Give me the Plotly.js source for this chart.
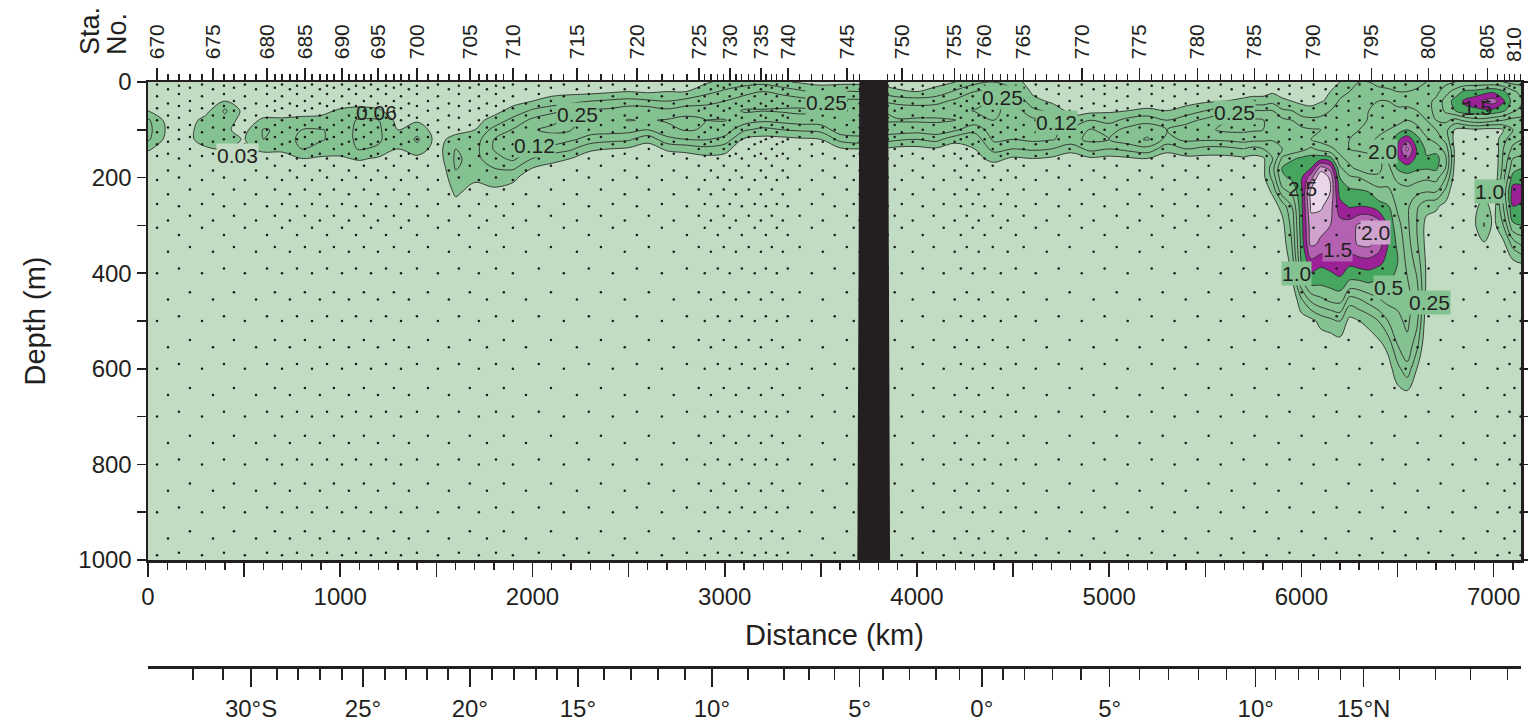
<!DOCTYPE html>
<html><head><meta charset="utf-8">
<script src="https://cdn.plot.ly/plotly-3.0.1.min.js"></script>
<style>html,body{margin:0;padding:0;background:#fff}#chart{width:1528px;height:728px}</style>
</head><body><div id="chart"></div>
<script>
// ---------------- DATA ----------------
// contour levels drawn in the section
const levels = [0.03, 0.06, 0.12, 0.25, 0.5, 1.0, 1.5, 2.0, 2.5];
// fill colour of each band: <0.03, 0.03-0.06, 0.06-0.12, 0.12-0.25, 0.25-0.5, 0.5-1, 1-1.5, 1.5-2, 2-2.5, >2.5
const bandColors = ['#c1dcc3','#85c291','#85c291','#85c291','#85c291','#46a65f','#9c2097','#b461b2','#d0a2ce','#ead6ea'];

// upper layer grid (0-5700 km, 0-260 m); one profile per distance column
const upperKm = [0,100,200,300,400,500,600,700,800,900,1000,1100,1200,1300,1400,1500,1600,1700,1800,1900,2000,2100,2200,2300,2400,2500,2600,2700,2800,2900,3000,3100,3200,3300,3400,3500,3600,3700,3800,3900,4000,4100,4200,4300,4400,4500,4600,4700,4800,4900,5000,5100,5200,5300,5400,5500,5600,5700];
const upperDepth = [0,20,40,60,80,100,120,140,160,180,200,230,260];
const upperProfiles = [
[0,0,0.01,0.03,0.07,0.08,0.07,0.035,0.01,0,0,0,0],
[0,0,0,0.01,0.02,0.025,0.02,0.01,0,0,0,0,0],
[0,0,0,0.01,0.015,0.02,0.02,0.01,0,0,0,0,0],
[0,0,0.01,0.02,0.04,0.045,0.045,0.025,0.01,0,0,0,0],
[0,0,0.03,0.07,0.05,0.035,0.04,0.03,0.01,0,0,0,0],
[0,0,0.01,0.02,0.015,0.02,0.028,0.025,0.01,0,0,0,0],
[0,0,0,0.015,0.035,0.065,0.06,0.035,0.02,0,0,0,0],
[0,0,0,0.015,0.035,0.055,0.05,0.035,0.02,0,0,0,0],
[0,0,0,0.015,0.04,0.06,0.07,0.06,0.03,0,0,0,0],
[0,0,0,0.02,0.04,0.062,0.065,0.05,0.025,0,0,0,0],
[0,0,0.01,0.035,0.05,0.055,0.05,0.045,0.025,0,0,0,0],
[0,0,0.015,0.04,0.065,0.065,0.07,0.065,0.035,0.01,0,0,0],
[0,0,0.01,0.035,0.06,0.07,0.07,0.055,0.025,0,0,0,0],
[0,0,0,0.01,0.02,0.03,0.035,0.03,0.01,0,0,0,0],
[0,0,0,0.01,0.025,0.05,0.07,0.05,0.02,0,0,0,0],
[0,0,0,0,0.01,0.015,0.02,0.015,0.01,0,0,0,0],
[0,0,0,0,0.01,0.02,0.04,0.06,0.07,0.065,0.05,0.035,0.02],
[0,0,0,0.01,0.02,0.03,0.045,0.05,0.05,0.045,0.035,0.02,0.01],
[0,0,0.01,0.02,0.04,0.08,0.12,0.13,0.1,0.06,0.04,0.025,0.01],
[0,0.01,0.02,0.04,0.08,0.13,0.2,0.22,0.15,0.07,0.035,0.02,0],
[0,0.015,0.03,0.07,0.15,0.24,0.2,0.13,0.06,0.03,0.015,0,0],
[0,0.02,0.04,0.1,0.22,0.3,0.2,0.1,0.04,0.02,0,0,0],
[0,0.02,0.05,0.13,0.28,0.26,0.14,0.07,0.03,0.01,0,0,0],
[0,0.02,0.06,0.14,0.2,0.17,0.1,0.035,0.015,0,0,0,0],
[0.01,0.025,0.07,0.15,0.22,0.18,0.08,0.03,0.01,0,0,0,0],
[0.01,0.03,0.08,0.2,0.26,0.17,0.07,0.025,0.01,0,0,0,0],
[0.01,0.025,0.07,0.2,0.24,0.12,0.04,0.015,0,0,0,0,0],
[0.01,0.03,0.06,0.15,0.27,0.22,0.1,0.035,0.01,0,0,0,0],
[0.015,0.03,0.08,0.2,0.32,0.27,0.12,0.04,0.015,0,0,0,0],
[0.025,0.05,0.1,0.18,0.25,0.24,0.13,0.05,0.02,0,0,0,0],
[0.04,0.07,0.12,0.2,0.26,0.2,0.1,0.04,0.02,0,0,0,0],
[0.045,0.1,0.18,0.27,0.2,0.07,0.025,0.01,0,0,0,0,0],
[0.05,0.12,0.22,0.26,0.15,0.05,0.02,0.01,0,0,0,0,0],
[0.035,0.1,0.2,0.28,0.17,0.06,0.02,0,0,0,0,0,0],
[0.025,0.07,0.18,0.3,0.2,0.07,0.025,0.01,0,0,0,0,0],
[0.02,0.05,0.15,0.26,0.2,0.08,0.03,0.015,0,0,0,0,0],
[0.02,0.06,0.15,0.22,0.25,0.2,0.08,0.025,0.01,0,0,0,0],
[0.02,0.06,0.15,0.25,0.25,0.2,0.1,0.03,0.01,0,0,0,0],
[0.02,0.05,0.12,0.25,0.27,0.2,0.09,0.03,0.01,0,0,0,0],
[0.015,0.035,0.1,0.2,0.27,0.2,0.07,0.02,0,0,0,0,0],
[0.015,0.03,0.09,0.2,0.28,0.18,0.06,0.02,0,0,0,0,0],
[0.02,0.04,0.1,0.2,0.28,0.2,0.08,0.025,0.01,0,0,0,0],
[0.03,0.07,0.15,0.22,0.26,0.14,0.04,0.015,0,0,0,0,0],
[0.05,0.12,0.2,0.26,0.2,0.08,0.04,0.03,0.02,0,0,0,0],
[0.06,0.15,0.25,0.3,0.25,0.2,0.15,0.08,0.04,0.015,0,0,0],
[0.04,0.08,0.15,0.2,0.22,0.2,0.12,0.06,0.025,0.01,0,0,0],
[0.02,0.025,0.04,0.08,0.15,0.2,0.15,0.07,0.03,0.015,0,0,0],
[0.01,0.015,0.025,0.05,0.12,0.16,0.13,0.06,0.025,0.01,0,0,0],
[0,0.01,0.015,0.02,0.04,0.08,0.1,0.04,0.015,0,0,0,0],
[0,0.01,0.015,0.02,0.06,0.13,0.15,0.08,0.025,0,0,0,0],
[0,0.01,0.015,0.025,0.05,0.1,0.12,0.06,0.02,0,0,0,0],
[0,0.01,0.015,0.03,0.08,0.16,0.2,0.08,0.025,0,0,0,0],
[0,0.01,0.015,0.035,0.1,0.2,0.28,0.1,0.03,0.01,0,0,0],
[0,0.01,0.015,0.03,0.06,0.12,0.1,0.04,0.015,0,0,0,0],
[0,0.01,0.02,0.04,0.1,0.18,0.15,0.06,0.02,0,0,0,0],
[0,0.01,0.025,0.06,0.15,0.22,0.14,0.05,0.02,0,0,0,0],
[0.01,0.015,0.03,0.1,0.24,0.3,0.15,0.05,0.02,0,0,0,0],
[0.01,0.02,0.035,0.12,0.27,0.3,0.18,0.06,0.025,0,0,0,0]
];

// northern grid (5700-7150 km, 0-700 m)
const northKm = [5700,5750,5800,5850,5900,5950,6000,6050,6100,6150,6200,6250,6300,6350,6400,6450,6500,6550,6600,6650,6700,6750,6800,6850,6900,6950,7000,7050,7100,7150];
const northDepth = [0,20,40,60,80,100,120,140,160,180,200,230,260,300,340,380,420,460,500,550,600,650,700];
const northProfiles = [
[0.01,0.02,0.035,0.12,0.27,0.3,0.18,0.06,0.025,0,0,0,0,0,0,0,0,0,0,0,0,0,0],
[0.01,0.02,0.04,0.13,0.28,0.28,0.16,0.05,0.02,0,0,0,0,0,0,0,0,0,0,0,0,0,0],
[0.01,0.02,0.04,0.12,0.26,0.25,0.15,0.06,0.025,0.02,0.02,0.01,0,0,0,0,0,0,0,0,0,0,0],
[0.015,0.025,0.05,0.12,0.22,0.22,0.14,0.07,0.06,0.1,0.08,0.035,0.015,0,0,0,0,0,0,0,0,0,0],
[0.015,0.02,0.035,0.07,0.15,0.2,0.15,0.12,0.3,0.55,0.45,0.2,0.04,0.02,0.01,0,0,0,0,0,0,0,0],
[0.015,0.02,0.03,0.06,0.12,0.18,0.14,0.15,0.45,0.8,0.6,0.3,0.12,0.08,0.06,0.04,0.02,0,0,0,0,0,0],
[0.015,0.02,0.025,0.04,0.09,0.15,0.13,0.2,0.6,0.9,0.95,0.9,0.85,0.8,0.7,0.5,0.2,0.05,0.015,0,0,0,0],
[0.02,0.022,0.025,0.035,0.08,0.13,0.12,0.3,0.7,1.0,1.8,2.7,2.6,2.3,2.1,1.3,0.65,0.12,0.02,0,0,0,0],
[0.02,0.025,0.028,0.045,0.08,0.12,0.1,0.2,0.8,2.2,3.0,2.8,2.6,2.15,1.9,1.1,0.6,0.2,0.04,0.01,0,0,0],
[0.025,0.03,0.035,0.06,0.09,0.11,0.08,0.15,0.7,1.8,2.4,2.5,2.2,2.0,1.7,1.2,0.7,0.25,0.05,0.01,0,0,0],
[0.03,0.045,0.07,0.08,0.09,0.1,0.09,0.1,0.15,0.3,0.5,0.8,1.2,1.7,1.75,1.4,0.8,0.3,0.06,0.015,0,0,0],
[0.04,0.06,0.08,0.09,0.09,0.1,0.12,0.12,0.1,0.15,0.3,0.65,0.95,1.75,1.85,1.1,0.45,0.08,0.02,0,0,0,0],
[0.06,0.07,0.09,0.1,0.1,0.12,0.15,0.15,0.08,0.1,0.25,0.6,1.0,2.1,2.05,1.2,0.45,0.1,0.03,0,0,0,0],
[0.06,0.08,0.1,0.12,0.13,0.15,0.2,0.2,0.08,0.08,0.18,0.5,0.95,2.2,2.1,1.25,0.5,0.15,0.04,0.01,0,0,0],
[0.05,0.08,0.12,0.15,0.18,0.2,0.3,0.35,0.1,0.1,0.15,0.35,0.7,1.9,1.8,1.1,0.45,0.22,0.06,0.02,0,0,0],
[0.05,0.07,0.12,0.18,0.25,0.25,0.3,0.4,0.3,0.2,0.2,0.3,0.55,0.9,1.0,0.85,0.5,0.3,0.12,0.04,0.015,0,0],
[0.04,0.06,0.1,0.15,0.2,0.35,0.9,1.05,0.95,0.6,0.3,0.2,0.22,0.35,0.45,0.5,0.4,0.3,0.22,0.12,0.05,0.02,0],
[0.04,0.06,0.1,0.15,0.25,0.5,1.3,2.15,1.5,0.75,0.4,0.2,0.15,0.15,0.18,0.22,0.28,0.32,0.3,0.22,0.1,0.025,0],
[0.05,0.07,0.1,0.12,0.2,0.35,0.7,0.95,0.85,0.6,0.35,0.15,0.07,0.06,0.07,0.1,0.14,0.2,0.16,0.08,0.03,0.01,0],
[0.06,0.08,0.1,0.1,0.12,0.18,0.3,0.45,0.55,0.55,0.3,0.12,0.04,0.02,0.02,0.025,0.025,0.02,0.01,0,0,0,0],
[0.08,0.1,0.15,0.15,0.12,0.12,0.2,0.4,0.7,0.6,0.35,0.12,0.035,0.015,0,0,0,0,0,0,0,0,0],
[0.1,0.2,0.35,0.3,0.15,0.08,0.1,0.2,0.3,0.25,0.12,0.05,0.02,0,0,0,0,0,0,0,0,0,0],
[0.12,0.35,0.7,0.5,0.1,0.025,0.015,0.02,0.02,0.015,0.01,0,0,0,0,0,0,0,0,0,0,0,0],
[0.15,0.6,1.1,0.85,0.15,0.02,0.01,0,0,0,0,0,0,0,0,0,0,0,0,0,0,0,0],
[0.15,0.65,1.3,0.85,0.2,0.025,0.01,0,0,0,0,0,0.02,0.025,0.01,0,0,0,0,0,0,0,0],
[0.15,0.8,1.6,0.9,0.2,0.02,0.01,0,0,0,0,0.02,0.045,0.065,0.025,0,0,0,0,0,0,0,0],
[0.15,0.9,1.75,0.85,0.15,0.02,0.01,0,0,0,0,0,0.015,0.02,0.01,0,0,0,0,0,0,0,0],
[0.12,0.6,1.1,0.6,0.12,0.03,0.05,0.06,0.07,0.08,0.1,0.15,0.12,0.06,0.02,0,0,0,0,0,0,0,0],
[0.1,0.3,0.4,0.3,0.1,0.06,0.1,0.15,0.25,0.4,0.7,1.3,1.0,0.45,0.08,0.02,0,0,0,0,0,0,0],
[0.1,0.2,0.25,0.2,0.1,0.08,0.12,0.18,0.3,0.5,0.8,1.2,0.9,0.5,0.15,0.03,0,0,0,0,0,0,0]
];

// station positions (km) for stations 670 ... 810
const stationKm = [47,104,161,218,281,338,395,447,504,562,
 619,660,697,738,775,816,853,894,931,967,
 1009,1045,1082,1123,1160,1196,1238,1279,1316,1357,
 1399,1456,1508,1565,1617,1674,1721,1763,1810,1851,
 1898,1966,2033,2096,2163,2231,2293,2356,2418,2480,
 2543,2605,2673,2735,2803,2865,2896,2928,2964,2995,
 3026,3058,3089,3125,3156,3188,3214,3245,3271,3302,
 3328,3390,3453,3510,3572,3635,3671,3702,3848,3884,
 3921,3978,4030,4087,4139,4196,4228,4259,4290,4321,
 4352,4394,4436,4472,4514,4555,4618,4675,4737,4794,
 4857,4919,4976,5039,5096,5158,5221,5278,5340,5398,
 5460,5517,5580,5637,5699,5756,5819,5881,5938,6001,
 6063,6126,6183,6245,6302,6365,6422,6484,6542,6604,
 6661,6724,6786,6843,6906,6968,7020,7056,7082,7108,
 7140];
const labelledStations = [670,675,680,685,690,695,700,705,710,715,720,725,730,735,740,745,750,755,760,765,770,775,780,785,790,795,800,805,810];
// sample (bottle) depths of the casts; casts cycle through four sampling schemes
const sampleDepthsA = [5,30,55,80,105,130,155,205,255,305,400,500,600,700,800,900,990];
const sampleDepthsB = [15,45,70,95,125,150,185,235,290,355,455,555,655,755,855,955];
const sampleDepthsC = [8,25,50,75,100,120,160,200,260,320,390,490,590,690,790,890,985];
const sampleDepthsD = [12,40,60,90,115,140,175,225,280,345,440,540,640,740,840,940];

// land / no-data gap
const gapKm = [3700, 3850, 3860, 3690];
const gapDepth = [0, 0, 1000, 1000];

// latitude scale
const latMajorKm = [536,1118,1674,2236,2933,3702,4337,5002,5762,6323];
const latMajorText = ['30°S','25°','20°','15°','10°','5°','0°','5°','10°','15°N'];
const latMinorKm = [234,390,671,780,894,1009,1232,1342,1451,1560,1789,1903,2018,2127,2371,2512,2652,2792,3120,3307,3437,3572,3822,3962,4098,4222,4446,4560,4706,4852,5158,5309,5465,5611,5866,5985,6089,6204,6510,6698,6880,7072];

// contour labels
const labelText  = ['0.06','0.03','0.25','0.12','0.25','0.25','0.12','0.25','1.5','2.0','2.5','2.0','1.5','1.0','0.5','0.25','1.0'];
const labelKm    = [1191,463,2236,2012,3531,4446,4727,5652,6916,6422,6006,6386,6188,5975,6453,6666,6978];
const labelDepth = [63,153,69,132,42,33,84,63,54,146,222,314,351,400,429,462,230];
const labelBand  = [-1,0,1,1,1,1,1,1,-1,1,-1,8,7,1,1,1,1];

// ---------------- BUILD ----------------
const INK = '#231f20';
const FONT = 'Liberation Sans, Arial, Helvetica, sans-serif';
const XMAX = 7142;

function toLevelIndex(v) {
  if (v <= levels[0]) return v / levels[0];
  for (let i = 0; i < levels.length - 1; i++) {
    if (v <= levels[i + 1]) return i + 1 + (v - levels[i]) / (levels[i + 1] - levels[i]);
  }
  return levels.length + (v - levels[levels.length - 1]) / 0.5;
}

const nb = bandColors.length - 1; // 9
const colorscale = [];
bandColors.forEach((c, k) => {
  const lo = Math.max(0, (k - 0.5) / nb), hi = Math.min(1, (k + 0.5) / nb);
  colorscale.push([lo, c]); colorscale.push([hi, c]);
});

function contourTrace(km, depth, profiles) {
  return {
    type: 'contour', x: km, y: depth, transpose: true,
    z: profiles.map(col => col.map(toLevelIndex)),
    autocontour: false,
    contours: {start: 1, end: 9, size: 1, coloring: 'fill', showlines: true, showlabels: false},
    colorscale: colorscale, showscale: false,
    line: {color: '#2e2e2e', width: 0.9, smoothing: 1},
    hoverinfo: 'skip', xaxis: 'x', yaxis: 'y'
  };
}

const sampleSchemes = [sampleDepthsA, sampleDepthsB, sampleDepthsC, sampleDepthsD];
const dotX = [], dotY = [];
stationKm.forEach((km, i) => {
  sampleSchemes[i % 4].forEach(d => { dotX.push(km); dotY.push(d); });
});

const traces = [
  contourTrace(upperKm, upperDepth, upperProfiles),
  contourTrace(northKm, northDepth, northProfiles),
  {type: 'scatter', mode: 'markers', x: dotX, y: dotY, xaxis: 'x2', yaxis: 'y',
   marker: {size: 2.5, color: '#1b1b1b'}, hoverinfo: 'skip', cliponaxis: true},
  {type: 'scatter', mode: 'lines', x: gapKm, y: gapDepth, xaxis: 'x3', yaxis: 'y',
   fill: 'toself', fillcolor: INK, line: {width: 0, color: INK}, hoverinfo: 'skip'}
];

const majorKm = labelledStations.map(s => stationKm[s - 670]);
const lastStation = labelledStations[labelledStations.length - 1];
// last label sits on the right frame: drawn as an annotation nudged inside the page
const majorText = labelledStations.map(s => (s === lastStation ? '' : String(s)));

const distVals = [0,500,1000,1500,2000,2500,3000,3500,4000,4500,5000,5500,6000,6500,7000];
const distText = distVals.map(v => (v % 1000 === 0 ? String(v) : ''));
const depthVals = [0,100,200,300,400,500,600,700,800,900,1000];
const depthText = depthVals.map(v => (v % 200 === 0 ? String(v) : ''));

const annotations = labelText.map((t, i) => ({
  x: labelKm[i], y: labelDepth[i], xref: 'x', yref: 'y', text: t, showarrow: false,
  font: {size: 21, color: INK, family: FONT},
  bgcolor: labelBand[i] >= 0 ? bandColors[labelBand[i]] : 'rgba(0,0,0,0)', borderpad: 0
}));
annotations.push({xref: 'paper', yref: 'paper', x: (90 - 148) / 1373, y: (667 - 31) / 585,
  xanchor: 'center', yanchor: 'middle',
  text: 'Sta.', textangle: -90, showarrow: false, font: {size: 27, color: INK, family: FONT}});
annotations.push({xref: 'paper', yref: 'paper', x: (117 - 148) / 1373, y: (667 - 34) / 585,
  xanchor: 'center', yanchor: 'middle',
  text: 'No.', textangle: -90, showarrow: false, font: {size: 27, color: INK, family: FONT}});
annotations.push({xref: 'paper', yref: 'paper', x: (1527 - 148) / 1373, y: (667 - 64) / 585,
  xanchor: 'right', yanchor: 'bottom',
  text: String(lastStation), textangle: -90, showarrow: false, font: {size: 21, color: INK, family: FONT}});

const baseAxis = {showgrid: false, zeroline: false, showline: true, linecolor: INK, linewidth: 2.5,
  ticks: 'outside', tickcolor: INK, tickwidth: 1.6, range: [0, XMAX]};

const layout = {
  width: 1528, height: 728,
  margin: {l: 148, r: 7, t: 82, b: 61, pad: 0},
  paper_bgcolor: '#ffffff', plot_bgcolor: bandColors[0],
  showlegend: false,
  font: {family: FONT, color: INK, size: 22},
  xaxis: Object.assign({}, baseAxis, {
    domain: [0, 1], anchor: 'y', ticklen: 14,
    tickmode: 'array', tickvals: distVals, ticktext: distText, tickfont: {size: 24},
    minor: {tickmode: 'linear', tick0: 0, dtick: 100, ticks: 'outside', ticklen: 7, tickwidth: 1.3, tickcolor: INK, showgrid: false},
    title: {text: 'Distance (km)', font: {size: 29, color: INK}, standoff: 16}
  }),
  xaxis2: Object.assign({}, baseAxis, {
    overlaying: 'x', anchor: 'y', side: 'top', ticklen: 12,
    tickmode: 'array', tickvals: majorKm, ticktext: majorText,
    tickangle: -90, tickfont: {size: 21}, ticklabelstandoff: 4,
    minor: {tickmode: 'array', tickvals: stationKm, ticks: 'outside', ticklen: 6, tickwidth: 1.3, tickcolor: INK, showgrid: false}
  }),
  xaxis3: Object.assign({}, baseAxis, {
    overlaying: 'x', anchor: 'free', position: 0, side: 'bottom', ticklen: 18,
    tickmode: 'array', tickvals: latMajorKm, ticktext: latMajorText, tickfont: {size: 24},
    ticklabelstandoff: 2,
    minor: {tickmode: 'array', tickvals: latMinorKm, ticks: 'outside', ticklen: 11, tickwidth: 1.6, tickcolor: INK, showgrid: false}
  }),
  yaxis: {
    domain: [(667 - 560) / 585, 1], anchor: 'x', range: [1000, 0],
    showgrid: false, zeroline: false, showline: true, linecolor: INK, linewidth: 2.5, mirror: 'ticks',
    ticks: 'outside', ticklen: 9, tickwidth: 1.6, tickcolor: INK,
    tickmode: 'array', tickvals: depthVals, ticktext: depthText, tickfont: {size: 24},
    title: {text: 'Depth (m)', font: {size: 29, color: INK}, standoff: 24}
  },
  annotations: annotations
};

Plotly.newPlot('chart', traces, layout, {displayModeBar: false, staticPlot: true});
</script>
</body></html>
